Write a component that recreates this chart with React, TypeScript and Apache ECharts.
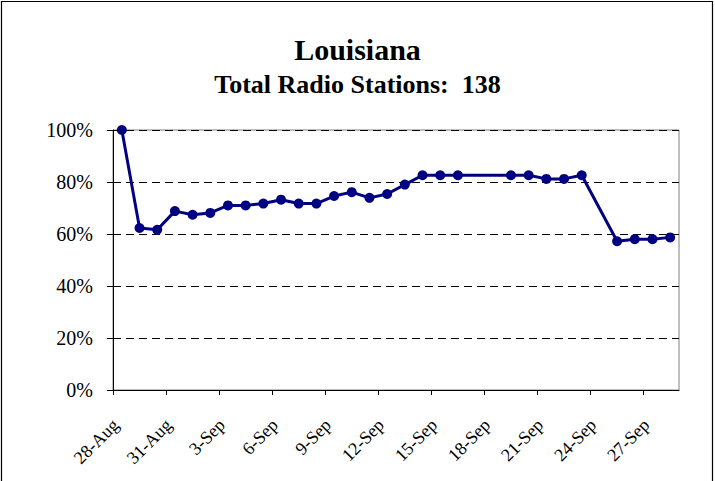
import React, { useEffect, useRef } from "react";
import * as echarts from "echarts";

const chartTitle = "Louisiana";
const chartSubtitle = "Total Radio Stations:  138";

// one category per day, 28-Aug .. 28-Sep
const days = [
  "28-Aug", "29-Aug", "30-Aug", "31-Aug",
  "1-Sep", "2-Sep", "3-Sep", "4-Sep", "5-Sep", "6-Sep", "7-Sep", "8-Sep",
  "9-Sep", "10-Sep", "11-Sep", "12-Sep", "13-Sep", "14-Sep", "15-Sep", "16-Sep",
  "17-Sep", "18-Sep", "19-Sep", "20-Sep", "21-Sep", "22-Sep", "23-Sep", "24-Sep",
  "25-Sep", "26-Sep", "27-Sep", "28-Sep",
];

// percent of stations on air (null = no report that day)
const percentOnAir: (number | null)[] = [
  100, 62.3, 61.6, 68.8,
  67.4, 68.1, 71.0, 71.0, 71.7, 73.2, 71.7, 71.7,
  74.6, 76.1, 73.9, 75.4, 79.0, 82.6, 82.6, 82.6,
  null, null, 82.6, 82.6, 81.2, 81.2, 82.6, null,
  57.2, 58.0, 58.0, 58.7,
];

// labelled days (every third day)
const labelDayIndexes = [0, 3, 6, 9, 12, 15, 18, 21, 24, 27, 30];

const yMin = 0;
const yMax = 100;
const yStep = 20;

const FONT = "'Liberation Serif', 'Times New Roman', serif";

export default function App() {
  const ref = useRef<HTMLDivElement>(null);

  useEffect(() => {
    if (!ref.current) return;
    const chart = echarts.init(ref.current, null, { renderer: "svg" });

    // each day occupies one unit; a day's point sits in the middle of its unit
    const seriesData = percentOnAir
      .map((v, i) => (v === null ? null : [i + 0.5, v]))
      .filter((d) => d !== null);

    chart.setOption({
      animation: false,
      backgroundColor: "#ffffff",
      title: {
        text: chartTitle,
        subtext: chartSubtitle,
        left: "center",
        top: 34,
        padding: 0,
        itemGap: 7,
        textStyle: {
          fontFamily: FONT,
          fontSize: 30,
          fontWeight: "bold",
          color: "#000000",
        },
        subtextStyle: {
          fontFamily: FONT,
          fontSize: 26,
          fontWeight: "bold",
          color: "#000000",
        },
      },
      graphic: [
        {
          type: "rect",
          shape: { x: 1.5, y: 1.5, width: 711, height: 520 },
          style: { fill: "none", stroke: "#000000", lineWidth: 1.2 },
          silent: true,
        },
      ],
      grid: {
        left: 113,
        top: 130,
        right: 36,
        bottom: 91,
        show: true,
        borderColor: "#808080",
        borderWidth: 1,
        backgroundColor: "transparent",
      },
      xAxis: {
        type: "value",
        min: 0,
        max: days.length,
        axisLine: { show: true, lineStyle: { color: "#000000", width: 1 } },
        axisTick: {
          show: true,
          length: 5,
          inside: false,
          customValues: labelDayIndexes,
          lineStyle: { color: "#000000" },
        },
        axisLabel: {
          show: true,
          // label ends sit just right of their tick mark
          customValues: labelDayIndexes.map((i) => i + 0.15),
          formatter: (v: number) => days[Math.floor(v)] ?? "",
          rotate: 45,
          margin: 32,
          fontFamily: FONT,
          fontSize: 18,
          color: "#000000",
        },
        splitLine: { show: false },
      },
      yAxis: {
        type: "value",
        min: yMin,
        max: yMax,
        interval: yStep,
        axisLine: { show: true, lineStyle: { color: "#000000", width: 1 } },
        axisTick: {
          show: true,
          length: 6,
          inside: false,
          lineStyle: { color: "#000000" },
        },
        axisLabel: {
          formatter: "{value}%",
          margin: 20,
          fontFamily: FONT,
          fontSize: 20,
          color: "#000000",
        },
        splitLine: {
          show: true,
          lineStyle: { color: "#000000", type: [8, 5], width: 1 },
        },
      },
      series: [
        {
          type: "line",
          data: seriesData,
          connectNulls: true,
          symbol: "circle",
          symbolSize: 10,
          lineStyle: { color: "#000080", width: 3 },
          itemStyle: { color: "#000080" },
          z: 3,
        },
      ],
    });

    return () => {
      chart.dispose();
    };
  }, []);

  return (
    <div
      ref={ref}
      style={{ position: "absolute", left: 0, top: 0, width: 715, height: 481 }}
    />
  );
}
